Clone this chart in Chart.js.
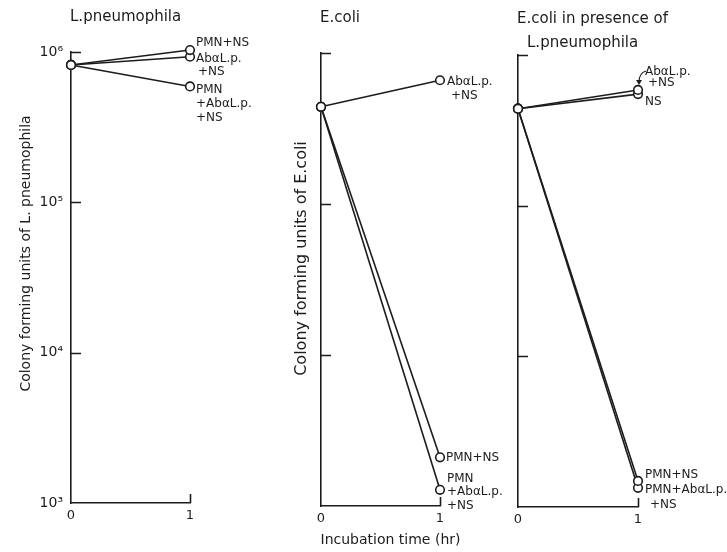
<!DOCTYPE html>
<html>
<head>
<meta charset="utf-8">
<title>Colony forming units vs incubation time</title>
<script src="https://cdn.jsdelivr.net/npm/chart.js@4.4.0/dist/chart.umd.min.js"></script>
<style>
  html, body { margin: 0; padding: 0; background: #fff; }
  #wrap { position: relative; width: 727px; height: 552px; overflow: hidden; }
  #wrap canvas { position: absolute; left: 0; top: 0; }
</style>
</head>
<body>
<div id="wrap">
  <canvas id="panelLp" width="727" height="552"></canvas>
  <canvas id="panelEc" width="727" height="552"></canvas>
  <canvas id="panelMix" width="727" height="552"></canvas>
</div>
<script>
// --- data ---
const hours = [0, 1];
const hourLabels = ['0', '1'];
const decadeTicks = [1e3, 1e4, 1e5, 1e6];
const decadeLabels = ['10³', '10⁴', '10⁵', '10⁶'];

// L. pneumophila
const lpPmnNs = [8.2e5, 1.03e6];
const lpAbNs = [8.2e5, 9.3e5];
const lpPmnAbNs = [8.2e5, 5.9e5];

// E. coli
const ecAbNs = [4.4e5, 6.6e5];
const ecPmnNs = [4.4e5, 2.1e3];
const ecPmnAbNs = [4.4e5, 1.28e3];

// E. coli in presence of L. pneumophila
const mixAbNs = [4.4e5, 5.86e5];
const mixNs = [4.4e5, 5.5e5];
const mixPmnNs = [4.4e5, 1.49e3];
const mixPmnAbNs = [4.4e5, 1.34e3];

// --- look ---
const FONT = 'DejaVu Sans';
const INK = '#1c1c1c';

// short ticks pointing into the plot (like the printed figure)
const inwardTicks = {
    id: 'inwardTicks',
    beforeDatasetsDraw(chart) {
        const ctx = chart.ctx;
        const x = chart.scales.x;
        const y = chart.scales.y;
        const area = chart.chartArea;
        ctx.save();
        ctx.strokeStyle = INK;
        ctx.lineWidth = 1.6;
        ctx.beginPath();
        y.ticks.forEach(t => {
            if (t.value === y.min) return;
            const py = Math.round(y.getPixelForValue(t.value)) + 0.5;
            ctx.moveTo(area.left, py);
            ctx.lineTo(area.left + 10, py);
        });
        x.ticks.forEach(t => {
            if (t.value === x.min) return;
            const px = Math.round(x.getPixelForValue(t.value)) + 0.5;
            ctx.moveTo(px, area.bottom);
            ctx.lineTo(px, area.bottom - 9);
        });
        ctx.stroke();
        ctx.restore();
    }
};

// panel title, axis titles and the series labels at the end points
function notesPlugin(cfg) {
    return {
        id: 'notes',
        afterDatasetsDraw(chart) {
            const ctx = chart.ctx;
            const area = chart.chartArea;
            ctx.save();
            ctx.fillStyle = INK;
            ctx.strokeStyle = INK;
            ctx.textBaseline = 'middle';

            // panel title, starts at the y axis
            ctx.textAlign = 'left';
            ctx.font = '15px "' + FONT + '"';
            cfg.title.forEach((line, i) => {
                ctx.fillText(line, area.left - 1 + (i > 0 ? 10 : 0), cfg.titleY + i * 24);
            });

            ctx.font = '12px "' + FONT + '"';
            cfg.notes.forEach(n => {
                const pt = chart.getDatasetMeta(n.ds).data[1];
                n.lines.forEach((line, i) => {
                    const ix = i > 0 ? (n.indent || 0) : 0;
                    ctx.fillText(line, pt.x + n.dx + ix, pt.y + n.dy + i * (n.gap || 14));
                });
                if (n.arrow) {
                    ctx.lineWidth = 1.1;
                    ctx.beginPath();
                    ctx.moveTo(pt.x + 8, pt.y - 19);
                    ctx.quadraticCurveTo(pt.x + 1, pt.y - 17, pt.x + 1, pt.y - 8);
                    ctx.stroke();
                    ctx.beginPath();
                    ctx.moveTo(pt.x - 2, pt.y - 10);
                    ctx.lineTo(pt.x + 1, pt.y - 5);
                    ctx.lineTo(pt.x + 4, pt.y - 10);
                    ctx.closePath();
                    ctx.fill();
                }
            });

            if (cfg.xTitle) {
                ctx.font = '14px "' + FONT + '"';
                ctx.textAlign = 'center';
                ctx.fillText(cfg.xTitle, (area.left + area.right) / 2 + 10, 540);
            }

            if (cfg.yTitle) {
                ctx.font = cfg.yTitle.size + 'px "' + FONT + '"';
                ctx.textAlign = 'center';
                ctx.translate(area.left + cfg.yTitle.dx, (area.top + area.bottom) / 2 + cfg.yTitle.dy);
                ctx.rotate(-Math.PI / 2);
                ctx.fillText(cfg.yTitle.text, 0, 0);
            }
            ctx.restore();
        }
    };
}

function makePanel(cfg) {
    const datasets = cfg.series.map(vals => ({
        data: hours.map((h, i) => ({ x: h, y: vals[i] })),
        borderColor: INK,
        borderWidth: 1.6,
        pointRadius: 4.3,
        pointBackgroundColor: '#fff',
        pointBorderColor: INK,
        pointBorderWidth: 1.6,
        tension: 0,
        clip: false
    }));

    new Chart(document.getElementById(cfg.id), {
        type: 'line',
        data: { datasets: datasets },
        options: {
            responsive: false,
            animation: false,
            events: [],
            layout: { padding: { left: cfg.padLeft, right: cfg.padRight, top: cfg.padTop, bottom: 0 } },
            plugins: {
                legend: { display: false },
                tooltip: { enabled: false },
                title: { display: false }
            },
            scales: {
                x: {
                    type: 'linear',
                    min: 0,
                    max: 1,
                    afterBuildTicks: s => { s.ticks = hours.map(v => ({ value: v })); },
                    afterFit: s => { s.height = cfg.xHeight; },
                    ticks: {
                        callback: v => hourLabels[hours.indexOf(v)],
                        color: INK,
                        font: { family: FONT, size: 13 },
                        padding: 5,
                        maxRotation: 0
                    },
                    grid: { display: false, drawTicks: false },
                    border: { color: INK, width: 1.6 }
                },
                y: {
                    type: 'logarithmic',
                    min: 1e3,
                    max: 1e6,
                    afterBuildTicks: s => { s.ticks = decadeTicks.map(v => ({ value: v })); },
                    afterFit: s => { s.width = cfg.yWidth; },
                    ticks: {
                        display: cfg.showYLabels,
                        callback: v => decadeLabels[decadeTicks.indexOf(v)],
                        color: INK,
                        font: { family: FONT, size: 14 },
                        padding: 8
                    },
                    grid: { display: false, drawTicks: false },
                    border: { color: INK, width: 1.6 }
                }
            }
        },
        plugins: [inwardTicks, notesPlugin(cfg)]
    });
}

document.addEventListener('DOMContentLoaded', function() {
    makePanel({
        id: 'panelLp',
        title: ['L.pneumophila'],
        titleY: 17,
        padTop: 52, padLeft: 0, padRight: 537, yWidth: 71, xHeight: 49,
        showYLabels: true,
        series: [lpPmnNs, lpAbNs, lpPmnAbNs],
        yTitle: { text: 'Colony forming units of L. pneumophila', size: 14, dx: -45, dy: -24 },
        notes: [
            { ds: 0, lines: ['PMN+NS'], dx: 6, dy: -7 },
            { ds: 1, lines: ['Ab\u03b1L.p.', '+NS'], dx: 6, dy: 2, gap: 13, indent: 2 },
            { ds: 2, lines: ['PMN', '+Ab\u03b1L.p.', '+NS'], dx: 6, dy: 3, gap: 14, indent: 0 }
        ]
    });

    makePanel({
        id: 'panelEc',
        title: ['E.coli'],
        titleY: 18,
        padTop: 53, padLeft: 281, padRight: 287, yWidth: 40, xHeight: 46,
        showYLabels: false,
        xTitle: 'Incubation time (hr)',
        series: [ecAbNs, ecPmnNs, ecPmnAbNs],
        yTitle: { text: 'Colony forming units of E.coli', size: 16, dx: -19, dy: -21 },
        notes: [
            { ds: 0, lines: ['Ab\u03b1L.p.', '+NS'], dx: 7, dy: 2, gap: 14, indent: 4 },
            { ds: 1, lines: ['PMN+NS'], dx: 6, dy: 1 },
            { ds: 2, lines: ['PMN', '+Ab\u03b1L.p.', '+NS'], dx: 7, dy: -11, gap: 13.5, indent: 0 }
        ]
    });

    makePanel({
        id: 'panelMix',
        title: ['E.coli in presence of', 'L.pneumophila'],
        titleY: 19,
        padTop: 55, padLeft: 508, padRight: 89, yWidth: 10, xHeight: 45,
        showYLabels: false,
        series: [mixAbNs, mixNs, mixPmnNs, mixPmnAbNs],
        notes: [
            { ds: 0, lines: ['Ab\u03b1L.p.', '+NS'], dx: 7, dy: -18, gap: 11, indent: 3, arrow: true },
            { ds: 1, lines: ['NS'], dx: 7, dy: 8 },
            { ds: 2, lines: ['PMN+NS'], dx: 7, dy: -6 },
            { ds: 3, lines: ['PMN+Ab\u03b1L.p.', '+NS'], dx: 7, dy: 2, gap: 15, indent: 5 }
        ]
    });
});
</script>
</body>
</html>
